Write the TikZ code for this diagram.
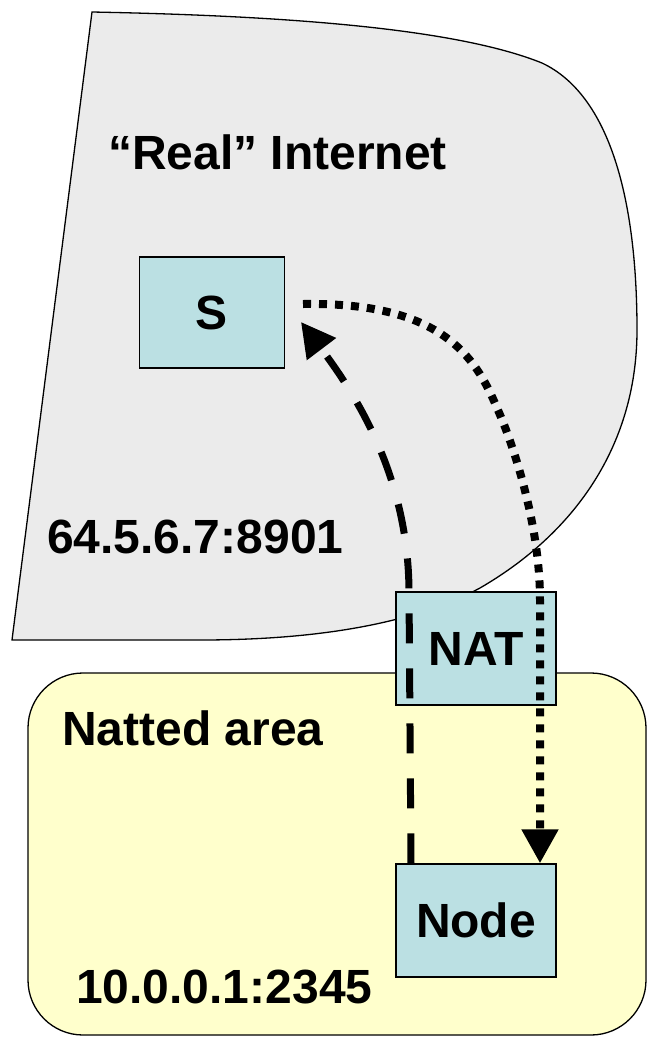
\documentclass[tikz,border=0pt]{standalone}
\usepackage{fontspec}
\setmainfont{Liberation Sans}
\usetikzlibrary{arrows.meta,calc}
\definecolor{cloudgrey}{HTML}{EBEBEB}
\definecolor{natyellow}{HTML}{FFFFCC}
\definecolor{boxcyan}{HTML}{BBE0E3}
\begin{document}
\begin{tikzpicture}[x=1pt,y=-1pt,
 boxnode/.style={draw=black,line width=1.3pt,fill=boxcyan,minimum width=160pt,minimum height=113pt,inner sep=0pt,font=\fontsize{48}{50}\selectfont\bfseries},
 lbl/.style={anchor=base west,inner sep=0pt,font=\fontsize{48}{50}\selectfont\bfseries},
 dashedarrow/.style={line width=7pt,dash pattern=on 30pt off 25pt,-{Triangle[length=34pt,width=35pt]}},
 dottedarrow/.style={line width=8pt,dash pattern=on 8pt off 8pt,-{Triangle[length=34pt,width=35pt]}},
 arealine/.style={draw=black,line width=1.3pt}
]
\useasboundingbox (0,0) rectangle (648,1037);
% "Real" Internet cloud
\path[arealine,fill=cloudgrey] (92,12) .. controls (300,16) and (460,30) .. (542,63)
  .. controls (610,95) and (637,200) .. (637,330)
  .. controls (637,440) and (580,530) .. (480,588)
  .. controls (420,620) and (330,640) .. (200,640) -- (12,640) -- cycle;
% Natted area
\path[arealine,fill=natyellow,rounded corners=55pt] (28,673) rectangle (646,1035);
% labels
\node[lbl] (lreal) at (108,169) {“Real” Internet};
\node[lbl] (lpub) at (47,553) {64.5.6.7:8901};
\node[lbl] (lnat) at (62,745) {Natted area};
\node[lbl] (lpriv) at (76,1003) {10.0.0.1:2345};
% boxes
\node[boxnode,minimum width=145pt,minimum height=111pt] (S) at (212,312.5) {S};
\node[boxnode] (NAT) at (476,648.5) {NAT};
\node[boxnode] (Node) at (476,920.5) {Node};
% connectors
\coordinate (sTip) at (301,322);
\coordinate (sOut) at (303,304);
\coordinate (dA) at (409,590);
\coordinate (tA) at (497,408);
\coordinate (tB) at (540,600);
\draw[dashedarrow] ([xshift=-65pt]Node.north) -- (dA) .. controls (408,480) and (360,400) .. (sTip);
\draw[dottedarrow] (sOut) .. controls (440,302) and (475,355) .. (tA)
  .. controls (510,436) and (540,520) .. (tB) -- ([xshift=64pt]Node.north);
\end{tikzpicture}
\end{document}
